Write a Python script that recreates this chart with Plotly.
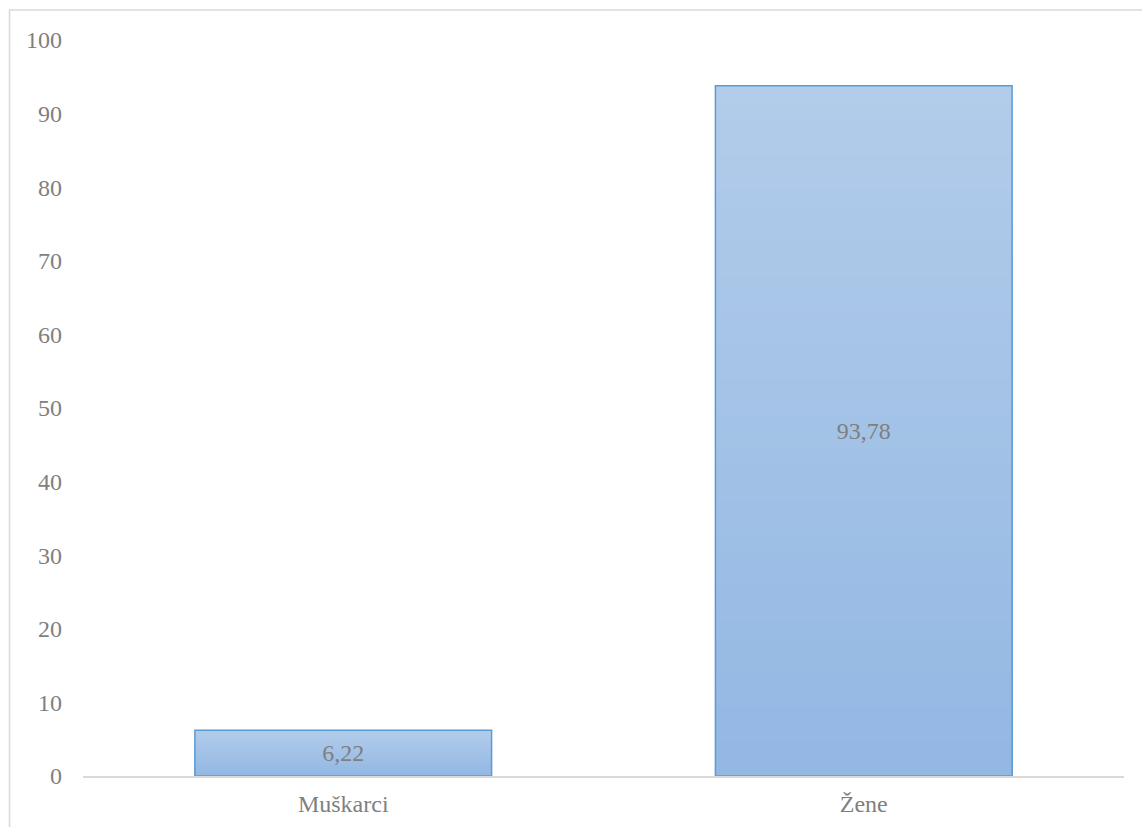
import plotly.graph_objects as go

categories = ["Muškarci", "Žene"]
values = [6.22, 93.78]
labels = ["6,22", "93,78"]
y_ticks = [0, 10, 20, 30, 40, 50, 60, 70, 80, 90, 100]

TOP = (178, 204, 234)
BOTTOM = (146, 183, 227)
N = 40
FONT = "Liberation Serif, Times New Roman, serif"
FS = 24

fig = go.Figure()
# gradient: overlay bars of decreasing height, lighter at top
for k in range(N, 0, -1):
    f = k / N
    c = tuple(round(BOTTOM[i] + (TOP[i] - BOTTOM[i]) * f) for i in range(3))
    fig.add_trace(go.Bar(
        x=categories, y=[v * f for v in values],
        marker=dict(color=f"rgb{c}", line=dict(width=0)),
        hoverinfo="skip", showlegend=False,
    ))
# outline + labels
fig.add_trace(go.Bar(
    x=categories, y=values, text=labels, textposition="inside",
    insidetextanchor="middle",
    textfont=dict(family=FONT, size=FS, color="#7f7f7f"),
    marker=dict(color="rgba(0,0,0,0)", line=dict(color="#5b9bd5", width=1.5)),
    showlegend=False,
))

fig.update_layout(
    width=1142, height=827,
    barmode="overlay", bargap=0.43,
    margin=dict(l=83, r=18, t=40, b=51),
    plot_bgcolor="white", paper_bgcolor="white",
    font=dict(family=FONT, size=FS, color="#7f7f7f"),
    uniformtext=dict(minsize=FS, mode="show"),
    shapes=[dict(type="rect", xref="paper", yref="paper",
                 x0=-0.0706, x1=1.03, y0=-0.12, y1=1.0408,
                 line=dict(color="#d9d9d9", width=1.5), fillcolor="rgba(0,0,0,0)", layer="below")],
)
fig.update_yaxes(range=[0, 100], tickvals=y_ticks, showgrid=False, zeroline=False,
                 showline=False, ticks="", ticklabelstandoff=20, automargin=False,
                 tickfont=dict(family=FONT, size=FS, color="#7f7f7f"))
fig.update_xaxes(showgrid=False, showline=True, linecolor="#d9d9d9", linewidth=1.5,
                 ticks="", ticklabelstandoff=5, automargin=False,
                 tickfont=dict(family=FONT, size=FS, color="#7f7f7f"))

fig.write_html("out.html")
